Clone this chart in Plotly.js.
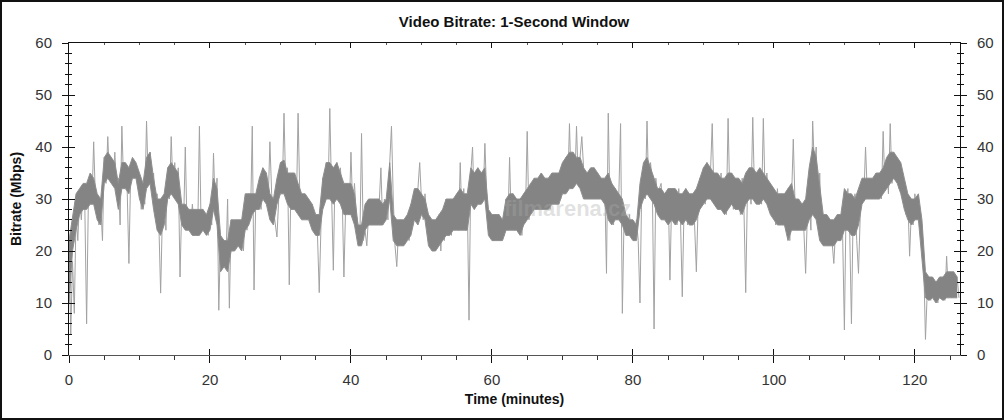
<!DOCTYPE html>
<html>
<head>
<meta charset="utf-8">
<script src="https://cdn.plot.ly/plotly-3.0.1.min.js"></script>
<style>
html,body{margin:0;padding:0;background:#fff;}
#wrap{position:relative;width:1004px;height:420px;}
#chart{width:1004px;height:420px;}
#frame{position:absolute;left:0;top:0;width:1004px;height:420px;box-sizing:border-box;border:2px solid #111;pointer-events:none;}
</style>
</head>
<body>
<div id="wrap"><div id="chart"></div><div id="frame"></div></div>
<script>
// Per-second readings, 4 per minute (minutes 0 .. 126.25), Mbps
const sampleStep = 0.25;
const bitrate = [
22,4,18,8, 27,22,30,26, 32,28,6,30, 34,29,41,30, 30,25,29,22,
38,33,42,34, 37,33,39,32, 34,25,44,33, 36,32,17.6,35, 37,34,36,33,
34,28,32,29, 45,33,39,34, 35,28,31,25, 11.9,27,30,24, 36,30,42,32,
37,31,36,15, 29,25,40,24, 28,24,29,25, 27,23,44,24, 28,24,27,23,
29,25,38.8,28, 34,8.6,23,18, 22,17,30,9, 26,20,25,21, 25,21,26,20,
28,24,31,26, 44,12.5,30,28, 31,28,36,30, 35,29,41,31, 28,25,22.7,30,
37,31,46.5,32, 36,13.5,34,29, 35,28,46.5,30, 31,27,30,26, 30,26,29,24,
27,23,12,25, 34,30,37,31, 47.4,31,16.3,36, 37,30,36,31, 15,29,33,27,
39,28,33,27, 25,21,42.6,22, 24,21,27,25, 30,25,29,26, 29,36,25,30,
28,26,37,44, 30,21,17,24, 26,21,25,22, 26,22,29,25, 31,26,32,37,
30,26,31,27, 27,21,26,20, 25,21,27,20, 28,22,30,24, 29,23,30,25,
31,24,37,26, 32,24,30,6.7, 35,40,28,34, 36,29,35,30, 40.7,31,27,23,
26,22,27,23, 27,22,26,23, 30,24,38,25, 31,24,30,25, 29,23,31,27,
43,26,32,28, 34,28,33,29, 35,29,34,28, 33,28,35,30, 34,29,35,30,
36,31,38,32, 44.5,32,39,33, 44,33,38,42, 36,31,35,30, 34,30,36,31,
35,30,34,31, 33,15.7,46.5,28, 33,25,32,26, 31,44.5,8,27, 26,23,27,24,
25,23,26,22, 10,32,36,30, 45,31,37,33, 5,34,30,32, 33,27,31,26,
32,14.4,30,26, 31,25,32,26, 11.2,28,32,25, 30,26,31,25, 16,29,34,30,
36,29,37,31, 35,44.5,30,33, 34,28,35,29, 33,27,45.5,30, 35,28,34,29,
33,27,34,28, 12,32,36,29, 45.7,31,35,30, 36,29,45.5,31, 35,30,33,28,
30,25,32,26, 31,25,30,26, 32,22,30,41.5, 29,24,30,25, 28,24,15.7,27,
30,24,45,36, 40,26,35,22, 27,22,26,21, 26,21,17.6,24, 27,22,26,23,
4.8,30,32,24, 6,28,31,22, 15.7,27,32,30, 40,31,34,30, 33,30,35,31,
34,30,43,32, 37,31,44.5,33, 39,34,38,32, 36,30,33,27, 30,19,28,25,
31,27,29,26, 25,18,3,12, 14,10.5,15,11, 13,10,14,11, 15,10.5,19,12,
14,11,16,12, 15,11
];
// Dense core of the trace, read every half minute (minutes 0 .. 126): low / high (Mbps)
const bandStep = 0.5;
const bandLow = [
10,20, 24,27, 28,28, 29,29, 26,25, 33,34, 33,32, 28,32, 32,31, 34,34,
30,28, 32,33, 28,24, 23,25, 30,31, 30,29, 25,24, 24,23, 23,23, 24,23,
24,28, 25,16, 17,16, 20,20, 21,20, 24,25, 27,28, 28,30, 29,26, 25,29,
31,31, 29,28, 28,27, 26,26, 26,24, 23,23, 28,30, 30,29, 30,29, 27,27,
27,25, 21,21, 24,25, 25,25, 25,25, 26,30, 22,21, 21,21, 22,23, 26,25,
27,26, 21,20, 20,21, 22,23, 23,24, 24,24, 24,24, 29,28, 29,29, 30,23,
22,22, 22,22, 24,24, 24,24, 23,25, 26,27, 28,28, 28,28, 28,29, 29,29,
31,31, 32,32, 33,32, 30,30, 30,30, 30,30, 29,26, 25,26, 26,25, 23,23,
22,22, 28,30, 31,30, 29,27, 26,26, 25,26, 25,26, 25,26, 25,25, 26,28,
29,30, 30,29, 28,28, 27,28, 29,28, 28,27, 29,30, 30,29, 29,30, 29,27,
26,25, 25,25, 22,24, 24,24, 24,24, 26,27, 26,22, 21,21, 21,21, 22,22,
24,24, 23,23, 25,29, 30,30, 30,30, 30,31, 32,33, 34,33, 31,28, 26,25,
26,26, 18,11, 10.5,11, 10,11, 10.5,11, 11,11, 11
];
const bandHigh = [
22,27, 31,32, 33,33, 35,34, 31,30, 38,39, 38,37, 33,37, 37,36, 38,37,
35,33, 38,39, 34,30, 30,31, 36,37, 36,35, 29,29, 28,28, 28,28, 28,27,
29,34, 32,23, 22,22, 26,26, 26,26, 31,31, 31,31, 34,36, 35,31, 30,34,
37,37.5, 35,35, 35,33, 31,31, 30,29, 27,27, 34,37, 37,36, 37,35, 33,33,
33,31, 25,25, 29,30, 30,30, 30,29, 30,37, 27,26, 26,26, 27,29, 32,32,
31,30, 27,26, 26,27, 28,30, 30,30, 31,32, 31,31, 36,35, 36,35, 36,28,
27,27, 27,26, 30,31, 31,30, 30,31, 32,33, 34,34, 35,34, 34,35, 35,35,
37,38, 39,39, 38,38, 36,35, 36,36, 35,34, 34,35, 33,32, 31,30, 27,26,
26,25, 33,37, 38,36, 34,32, 32,31, 32,32, 32,31, 31,32, 31,31, 32,34,
36,37, 36,35, 35,34, 34,35, 35,34, 34,33, 35,36, 36,35, 36,35, 34,33,
32,31, 31,31, 32,33, 30,30, 29,30, 36,40, 38,32, 27,27, 26,26, 27,27,
32,31, 31,30, 32,34, 34,34, 34,35, 35,36, 38,39, 39,38, 37,34, 31,30,
30,31, 26,16, 15,15, 14,15, 15,16, 16,16, 15
];
const xTickVals = [0,20,40,60,80,100,120];
const yTickVals = [0,10,20,30,40,50,60];
const xRange = [0,126.4];
const yRange = [0,60];

const time = bitrate.map((_, i) => i * sampleStep);
const bandTime = bandLow.map((_, i) => i * bandStep);

const tickFont = {family:'Liberation Sans, Arial, sans-serif', size:15, color:'#333'};
const titleFont = {family:'Liberation Sans, Arial, sans-serif', size:14, color:'#111', weight:'bold'};

const traces = [
  {x: time, y: bitrate, type:'scatter', mode:'lines', line:{color:'#a2a2a2', width:1}, hoverinfo:'skip', showlegend:false},
  {x: bandTime, y: bandLow, type:'scatter', mode:'lines', line:{color:'#8e8e8e', width:1}, hoverinfo:'skip', showlegend:false},
  {x: bandTime, y: bandHigh, type:'scatter', mode:'lines', fill:'tonexty', fillcolor:'#848484', line:{color:'#8e8e8e', width:1}, hoverinfo:'skip', showlegend:false},
  {x:[0], y:[0], xaxis:'x2', yaxis:'y2', type:'scatter', mode:'markers', marker:{size:0, opacity:0}, hoverinfo:'skip', showlegend:false},
  {x:[0], y:[0], xaxis:'x3', yaxis:'y3', type:'scatter', mode:'markers', marker:{size:0, opacity:0}, hoverinfo:'skip', showlegend:false},
  {x:[0], y:[0], xaxis:'x3', yaxis:'y4', type:'scatter', mode:'markers', marker:{size:0, opacity:0}, hoverinfo:'skip', showlegend:false}
];

const common = {showgrid:false, zeroline:false, fixedrange:true};

const layout = {
  width:1004, height:420,
  margin:{l:69, r:44, t:43, b:65},
  paper_bgcolor:'#fff', plot_bgcolor:'#fff',
  font: tickFont,
  title:{text:'Video Bitrate: 1-Second Window', font:{family:'Liberation Sans, Arial, sans-serif', size:15, color:'#111', weight:'bold'}, x:0.512, xanchor:'center', y:0.948, yanchor:'middle'},
  xaxis: Object.assign({}, common, {
    range:xRange, tickmode:'array', tickvals:xTickVals, ticks:'outside', ticklen:7, tickcolor:'#111', tickwidth:1,
    minor:{tickmode:'linear', tick0:0, dtick:5, ticks:'outside', ticklen:4, tickcolor:'#333'},
    showline:true, linecolor:'#555', linewidth:1, tickfont:tickFont, ticklabelstandoff:4,
    title:{text:'Time (minutes)', font:titleFont, standoff:7}
  }),
  yaxis: Object.assign({}, common, {
    range:yRange, tickmode:'array', tickvals:yTickVals, ticks:'outside', ticklen:6, tickcolor:'#111', tickwidth:1,
    minor:{tickmode:'linear', tick0:0, dtick:2, ticks:'outside', ticklen:3, tickcolor:'#111'},
    showline:true, linecolor:'#111', linewidth:1, tickfont:tickFont, ticklabelstandoff:7,
    title:{text:'Bitrate (Mbps)', font:titleFont, standoff:10}
  }),
  xaxis2: Object.assign({}, common, {
    range:xRange, overlaying:'x', side:'top', anchor:'y2', tickmode:'array', tickvals:xTickVals, ticks:'inside', ticklen:5, tickcolor:'#111',
    minor:{tickmode:'linear', tick0:0, dtick:5, ticks:'inside', ticklen:2, tickcolor:'#555'},
    showline:true, linecolor:'#111', linewidth:1, showticklabels:false
  }),
  yaxis2: Object.assign({}, common, {
    range:yRange, overlaying:'y', side:'right', anchor:'x2', tickmode:'array', tickvals:yTickVals, ticks:'outside', ticklen:6, tickcolor:'#111',
    minor:{tickmode:'linear', tick0:0, dtick:2, ticks:'outside', ticklen:3, tickcolor:'#111'},
    showline:true, linecolor:'#111', linewidth:1, tickfont:tickFont, ticklabelstandoff:7
  }),
  xaxis3: Object.assign({}, common, {
    range:xRange, overlaying:'x', side:'bottom', anchor:'y3', tickmode:'array', tickvals:xTickVals, ticks:'inside', ticklen:6, tickcolor:'#111',
    showline:false, showticklabels:false
  }),
  yaxis3: Object.assign({}, common, {
    range:yRange, overlaying:'y', side:'left', anchor:'x3', tickmode:'array', tickvals:yTickVals, ticks:'inside', ticklen:6, tickcolor:'#111',
    minor:{tickmode:'linear', tick0:0, dtick:2, ticks:'inside', ticklen:3, tickcolor:'#111'},
    showline:false, showticklabels:false
  }),
  yaxis4: Object.assign({}, common, {
    range:yRange, overlaying:'y', side:'right', anchor:'x3', tickmode:'array', tickvals:yTickVals, ticks:'inside', ticklen:6, tickcolor:'#111',
    minor:{tickmode:'linear', tick0:0, dtick:2, ticks:'inside', ticklen:3, tickcolor:'#111'},
    showline:false, showticklabels:false
  }),
  annotations:[{text:'filmarena.cz', xref:'paper', yref:'paper', x:0.56, y:0.47, showarrow:false,
    font:{family:'Liberation Sans, Arial, sans-serif', size:22, color:'rgba(170,170,170,0.35)', weight:'bold'}}]
};

Plotly.newPlot('chart', traces, layout, {staticPlot:true, displayModeBar:false});
</script>
</body>
</html>
